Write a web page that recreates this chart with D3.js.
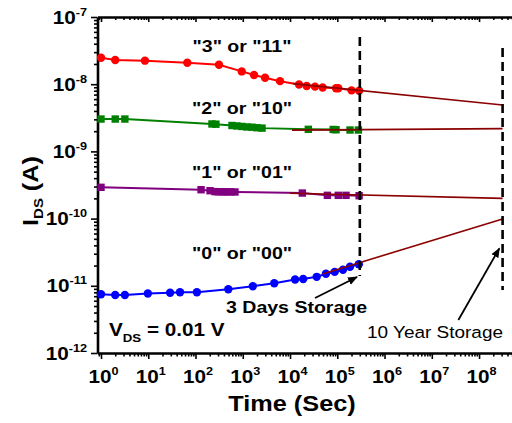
<!DOCTYPE html>
<html><head><meta charset="utf-8">
<script src="https://cdn.jsdelivr.net/npm/d3@7"></script>
<style>body{margin:0;background:#fff} svg{display:block;font-family:"Liberation Sans",Arial,sans-serif}</style>
</head><body><svg id="c" width="512" height="423"></svg>
<script>
// ---- data (time in s, current in A) ----
const redT = [1,2,8.5,67,314,950,1730,2960,6140,15500,22500,33800,49000,94000,105000,200000,290000];
const redV = [2.48e-8,2.29e-8,2.24e-8,2.09e-8,1.95e-8,1.55e-8,1.37e-8,1.25e-8,1.11e-8,9.9e-9,9.4e-9,9.2e-9,8.93e-9,8.69e-9,8.69e-9,8.1e-9,8.0e-9];
const greenT = [1,2,3.2,223,270,592,755,964,1230,1570,2005,2555,24400,82000,94000,186000,280000];
const greenV = [3.03e-9,3.03e-9,3.03e-9,2.56e-9,2.54e-9,2.43e-9,2.39e-9,2.35e-9,2.31e-9,2.29e-9,2.25e-9,2.22e-9,2.13e-9,2.12e-9,2.1e-9,2.08e-9,2.08e-9];
const purpleT = [1,131,203,259,300,347,400,465,560,684,18200,61700,105000,153000,290000];
const purpleV = [2.92e-10,2.69e-10,2.6e-10,2.52e-10,2.51e-10,2.51e-10,2.5e-10,2.5e-10,2.5e-10,2.49e-10,2.4e-10,2.22e-10,2.22e-10,2.22e-10,2.19e-10];
const blueT = [1,2,3.2,9.8,29,47,107,494,1630,4640,12800,19000,36700,57500,88000,132000,186000,286000];
const blueV = [7.48e-12,7.3e-12,7.3e-12,7.67e-12,7.87e-12,8.0e-12,8.0e-12,8.9e-12,9.87e-12,1.09e-11,1.24e-11,1.26e-11,1.36e-11,1.51e-11,1.61e-11,1.73e-11,1.92e-11,2.09e-11];
// extrapolation to 10 years
const extT = {red:[1.15e4,3.15e8], green:[1.1e4,3.15e8], purple:[1e4,3.15e8], blue:[4.9e4,3.15e8]};
const extV = {red:[1.02e-8,4.9e-9], green:[2.07e-9,2.18e-9], purple:[2.38e-10,2.0e-10], blue:[1.5e-11,9.9e-11]};
// storage markers
const storeT = [3.0e5, 3.15e8];
const storeTop = [5.04e-8, 3.46e-8];
const storeBot = [1.4e-11, 8.67e-12];
const arrowFrom = [[3.38e4,6.58e-12],[3.65e7,3.1e-12]];
const arrowTo = [[2.62e5,1.35e-11],[2.69e8,3.61e-11]];
const xTickExp = [0,1,2,3,4,5,6,7,8];
const yTickExp = [-12,-11,-10,-9,-8,-7];
const stateLabels = ['"3" or "11"','"2" or "10"','"1" or "01"','"0" or "00"'];

const svg = d3.select('#c');
const SX = 1.15;
const x = d3.scaleLog().domain([0.843, 1e9]).range([97.5, 526.3]);
const y = d3.scaleLog().domain([1e-12, 1e-7]).range([353, 17]);

// minor ticks
function minors(lo, hi){ const r=[]; for(let d=lo; d<=hi; d++) for(let k=2;k<=9;k++) r.push(k*Math.pow(10,d)); return r; }
const xMaj = xTickExp.map(e=>Math.pow(10,e));
const xMin = minors(-1,8).filter(v=>v>=x.domain()[0] && v<=5.1e8);
const yMaj = yTickExp.map(e=>Math.pow(10,e));
const yMin = minors(-12,-8);

function styleAxis(g, w){ g.selectAll('path').attr('stroke','#000').attr('stroke-width',w); g.selectAll('line').attr('stroke','#000').attr('stroke-width',1.6); g.selectAll('text').remove(); }

// bottom axis
svg.append('g').attr('transform','translate(0,353)').call(d3.axisBottom(x).tickValues(xMin).tickSizeInner(3.5).tickSizeOuter(0).tickFormat('')).call(g=>styleAxis(g,2.6));
svg.append('g').attr('transform','translate(0,353)').call(d3.axisBottom(x).tickValues(xMaj).tickSizeInner(6).tickSizeOuter(0).tickFormat('')).call(g=>{styleAxis(g,0);g.select('path').remove();});
// top axis
svg.append('g').attr('transform','translate(0,17)').call(d3.axisTop(x).tickValues(xMin).tickSizeInner(-3).tickSizeOuter(0).tickFormat('')).call(g=>styleAxis(g,2.6));
svg.append('g').attr('transform','translate(0,17)').call(d3.axisTop(x).tickValues(xMaj).tickSizeInner(-5).tickSizeOuter(0).tickFormat('')).call(g=>{styleAxis(g,0);g.select('path').remove();});
// left axis
svg.append('g').attr('transform','translate(97.5,0)').call(d3.axisLeft(y).tickValues(yMin).tickSizeInner(3.5).tickSizeOuter(0).tickFormat('')).call(g=>styleAxis(g,2.6));
svg.append('g').attr('transform','translate(97.5,0)').call(d3.axisLeft(y).tickValues(yMaj).tickSizeInner(6.5).tickSizeOuter(0).tickFormat('')).call(g=>{styleAxis(g,0);g.select('path').remove();});

// text helper
function txt(px, py, parts, anchor, rot){
  const t = svg.append('text')
    .attr('transform', `translate(${px},${py})` + (rot?` rotate(${rot})`:'') + ` scale(${SX},1)`)
    .attr('text-anchor', anchor||'start').attr('fill','#000');
  parts.forEach(p=>{ const s=t.append('tspan').text(p.t).attr('font-size',p.s).attr('font-weight',p.w||'bold'); if(p.dy) s.attr('dy',p.dy); });
  return t;
}
// x tick labels
xMaj.forEach((v,i)=>{ txt(x(v)+2.5, 383, [{t:'10',s:18},{t:String(xTickExp[i]),s:11,dy:-8}], 'middle'); });
// y tick labels
yMaj.forEach((v,i)=>{ txt(87, y(v)+6.5, [{t:'10',s:18},{t:String(yTickExp[i]),s:11,dy:-8}], 'end'); });

// axis titles
txt(292, 411, [{t:'Time (Sec)',s:22}], 'middle');
txt(38, 191, [{t:'I',s:22},{t:'DS',s:13,dy:5},{t:' (A)',s:22,dy:-5}], 'middle', -90);

// extrapolation lines
const line = d3.line().x(d=>x(d[0])).y(d=>y(d[1]));
// data series
const series = [
  {T:redT,V:redV,c:'#ff0000',m:'circle',k:'red'},
  {T:greenT,V:greenV,c:'#008000',m:'square',k:'green'},
  {T:purpleT,V:purpleV,c:'#800080',m:'square',k:'purple'},
  {T:blueT,V:blueV,c:'#0000ff',m:'circle',k:'blue'}
];
series.forEach(s=>{
  const pts = s.T.map((t,i)=>[t,s.V[i]]);
  svg.append('path').attr('d',line(pts)).attr('fill','none').attr('stroke',s.c).attr('stroke-width',2);
  const g = svg.append('g').attr('fill',s.c);
  if(s.m==='circle') g.selectAll('circle').data(pts).join('circle').attr('cx',d=>x(d[0])).attr('cy',d=>y(d[1])).attr('r',4.2);
  else g.selectAll('rect').data(pts).join('rect').attr('x',d=>x(d[0])-3.7).attr('y',d=>y(d[1])-3.7).attr('width',7.4).attr('height',7.4);
});
series.forEach(s=>{
  const pts = extT[s.k].map((t,i)=>[t,extV[s.k][i]]);
  svg.append('path').attr('d',line(pts)).attr('fill','none').attr('stroke','#8b0000').attr('stroke-width',1.6);
});

// dashed storage lines
storeT.forEach((t,i)=>{
  svg.append('line').attr('x1',x(t)).attr('x2',x(t)).attr('y1',y(storeTop[i])).attr('y2',y(storeBot[i]))
    .attr('stroke','#000').attr('stroke-width',2.6).attr('stroke-dasharray','9,5');
});
// arrows
svg.append('defs').append('marker').attr('id','ah').attr('viewBox','0 0 10 10').attr('refX',9).attr('refY',5)
  .attr('markerWidth',10).attr('markerHeight',10).attr('markerUnits','userSpaceOnUse').attr('orient','auto')
  .append('path').attr('d','M0,1 L10,5 L0,9 Z').attr('fill','#000');
arrowFrom.forEach((f,i)=>{
  const to = arrowTo[i];
  svg.append('line').attr('x1',x(f[0])).attr('y1',y(f[1])).attr('x2',x(to[0])).attr('y2',y(to[1]))
    .attr('stroke','#000').attr('stroke-width',1.8).attr('marker-end','url(#ah)');
});

// annotations
const labelY = [52, 113.5, 177.5, 258.5];
stateLabels.forEach((l,i)=>txt(242, labelY[i], [{t:l,s:17}], 'middle'));
txt(226, 313, [{t:'3 Days Storage',s:17}], 'start');
txt(367, 338, [{t:'10 Year Storage',s:16.5,w:'normal'}], 'start');
txt(109, 336, [{t:'V',s:18},{t:'DS',s:11.5,dy:6},{t:' = 0.01 V',s:18,dy:-6}], 'start');
</script></body></html>
